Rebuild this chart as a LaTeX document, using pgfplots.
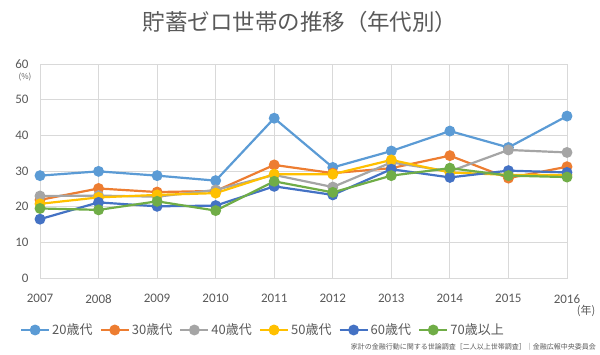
\documentclass[border=0pt]{standalone}
\usepackage{pgfplots}
\pgfplotsset{compat=1.18}
\usepackage{fontspec}
\setmainfont{Carlito}
\newfontfamily\cjk{Noto Sans CJK JP}
\definecolor{cA}{HTML}{5B9BD5}
\definecolor{cB}{HTML}{ED7D31}
\definecolor{cC}{HTML}{A5A5A5}
\definecolor{cD}{HTML}{FFC000}
\definecolor{cE}{HTML}{4472C4}
\definecolor{cF}{HTML}{70AD47}
\definecolor{gridgray}{HTML}{D9D9D9}
\definecolor{labgray}{HTML}{595959}
\begin{document}
\begin{tikzpicture}
\path[use as bounding box] (0pt,0pt) rectangle (600pt,354pt);
\begin{axis}[at={(40pt,76pt)}, anchor=south west, scale only axis,
  width=527pt, height=214pt,
  xmin=2007, xmax=2016, ymin=0, ymax=60,
  xtick={2007,...,2016}, ytick={0,10,...,60},
  grid=major, grid style={draw=gridgray, line width=0.75pt},
  axis line style={draw=gridgray, line width=0.75pt},
  tick style={draw=none},
  /pgf/number format/assume math mode=true,
  x tick label style={/pgf/number format/1000 sep={}, yshift=-13pt},
  y tick label style={xshift=-8pt},
  ticklabel style={font=\fontsize{13}{15}\selectfont, text=labgray},
  every axis plot/.append style={line width=2.2pt, mark=*, mark size=4.3pt, mark options={solid}},
  legend style={at={(0.423,-0.243)}, anchor=center, draw=none, fill=none,
    font=\cjk\fontsize{13}{15}\selectfont, text=labgray,
    /tikz/every even column/.append style={column sep=5pt}},
  legend columns=6,
  legend image code/.code={\draw[mark repeat=2,mark phase=2] plot coordinates {(0pt,0pt)(14pt,0pt)(28pt,0pt)};},
  clip=false
]
\addplot[cA] coordinates {(2007,28.7)(2008,29.9)(2009,28.7)(2010,27.3)(2011,44.8)(2012,31.0)(2013,35.6)(2014,41.2)(2015,36.6)(2016,45.4)};
\addlegendentry{20歳代}
\addplot[cB] coordinates {(2007,21.9)(2008,25.1)(2009,24.1)(2010,24.4)(2011,31.7)(2012,29.4)(2013,30.8)(2014,34.3)(2015,28.0)(2016,31.2)};
\addlegendentry{30歳代}
\addplot[cC] coordinates {(2007,23.0)(2008,23.1)(2009,22.8)(2010,24.7)(2011,28.9)(2012,25.5)(2013,32.4)(2014,29.9)(2015,35.9)(2016,35.2)};
\addlegendentry{40歳代}
\addplot[cD] coordinates {(2007,20.8)(2008,22.6)(2009,23.3)(2010,23.8)(2011,29.1)(2012,29.1)(2013,33.1)(2014,29.6)(2015,28.9)(2016,28.9)};
\addlegendentry{50歳代}
\addplot[cE] coordinates {(2007,16.5)(2008,21.2)(2009,20.1)(2010,20.3)(2011,25.7)(2012,23.3)(2013,30.5)(2014,28.2)(2015,30.1)(2016,29.6)};
\addlegendentry{60歳代}
\addplot[cF] coordinates {(2007,19.5)(2008,19.1)(2009,21.5)(2010,18.9)(2011,27.1)(2012,24.0)(2013,28.7)(2014,30.8)(2015,28.7)(2016,28.3)};
\addlegendentry{70歳以上}
\end{axis}
\node[font=\cjk\fontsize{22.5}{26}\selectfont, text=labgray] at (300pt,332pt) {貯蓄ゼロ世帯の推移（年代別）};
\node[font=\cjk\fontsize{8}{9}\selectfont, text=labgray] at (25pt,277pt) {(\%)};
\node[font=\cjk\fontsize{11}{12}\selectfont, text=labgray] at (586pt,43pt) {(年)};
\node[font=\cjk\fontsize{7}{8}\selectfont, text=labgray, anchor=east, inner sep=0pt] at (596pt,7pt) {家計の金融行動に関する世論調査［二人以上世帯調査］｜金融広報中央委員会};
\end{tikzpicture}
\end{document}
